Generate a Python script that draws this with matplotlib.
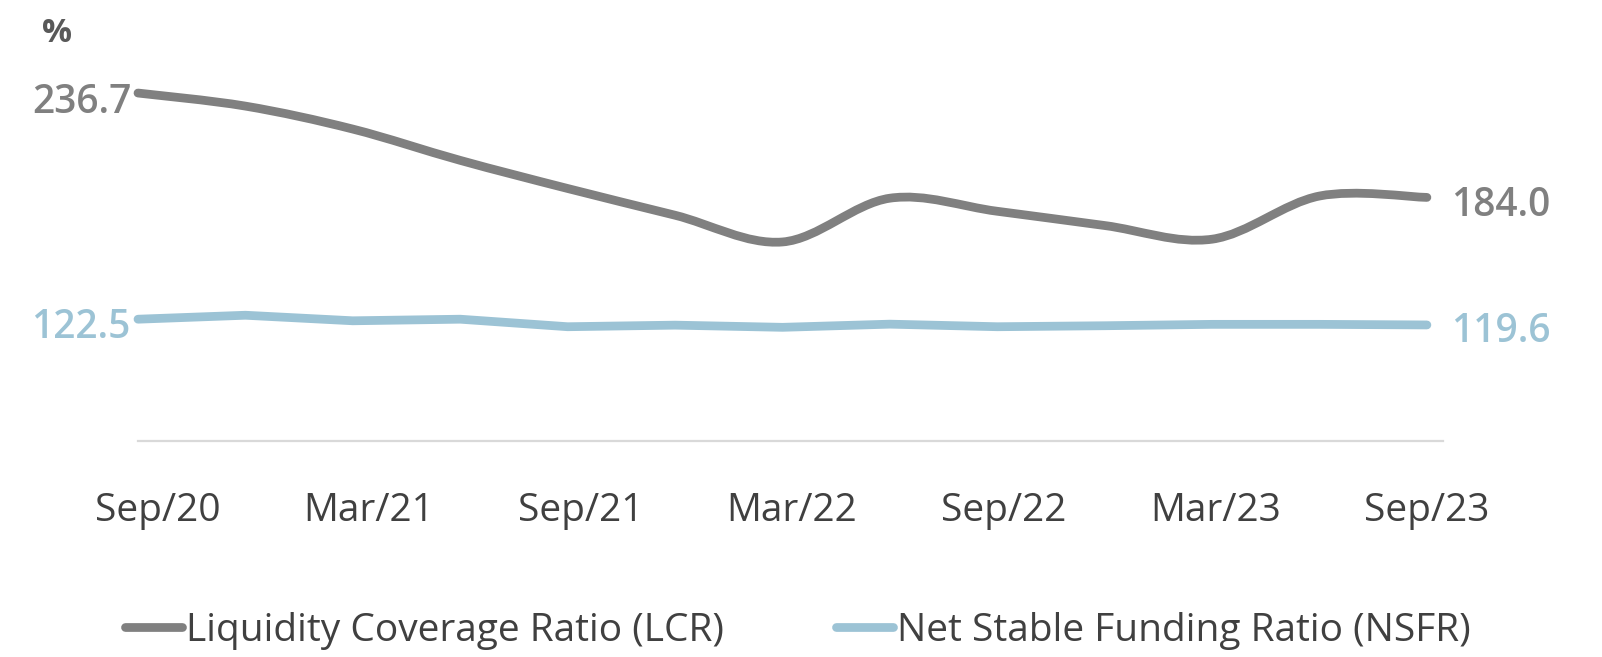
import numpy as np
import matplotlib
matplotlib.use("Agg")
import matplotlib.pyplot as plt
from matplotlib.path import Path
from matplotlib.patches import PathPatch
from matplotlib.lines import Line2D

plt.rcParams['font.family'] = ['Open Sans', 'DejaVu Sans']

# quarterly data, Sep/20 .. Sep/23
quarters = ["Sep/20", "Dec/20", "Mar/21", "Jun/21", "Sep/21", "Dec/21", "Mar/22",
            "Jun/22", "Sep/22", "Dec/22", "Mar/23", "Jun/23", "Sep/23"]
lcr = [236.7, 230.1, 218.5, 202.7, 188.5, 175.0, 161.5, 183.6, 177.0, 169.8, 162.9, 184.7, 184.0]
nsfr = [122.5, 124.5, 121.7, 122.5, 118.7, 119.5, 118.4, 120.0, 118.7, 119.2, 119.9, 119.9, 119.6]
tick_labels = ["Sep/20", "Mar/21", "Sep/21", "Mar/22", "Sep/22", "Mar/23", "Sep/23"]

LCR_COL = "#808080"
NSFR_COL = "#9cc3d5"
TXT_COL = "#404040"
LW = 6.3


def smooth_path(xs, ys):
    # catmull-rom -> cubic bezier, like a "smoothed line" in office charts
    pts = np.column_stack([xs, ys]).astype(float)
    ext = np.vstack([pts[0], pts, pts[-1]])
    verts = [pts[0]]
    codes = [Path.MOVETO]
    for i in range(len(pts) - 1):
        p0, p1, p2, p3 = ext[i], ext[i + 1], ext[i + 2], ext[i + 3]
        c1 = p1 + (p2 - p0) / 6.0
        c2 = p2 - (p3 - p1) / 6.0
        verts += [c1, c2, p2]
        codes += [Path.CURVE4] * 3
    return Path(verts, codes)


fig = plt.figure(figsize=(16.02, 6.57), dpi=100)
ax = fig.add_axes([138 / 1602, 1 - 441 / 657, (1443 - 138) / 1602, (441 - 86.5) / 657])

x = np.arange(len(quarters))
ax.add_patch(PathPatch(smooth_path(x, lcr), fill=False, edgecolor=LCR_COL, lw=LW,
                       capstyle='round', joinstyle='round', clip_on=False))
ax.plot(x, nsfr, color=NSFR_COL, lw=LW, solid_capstyle='round',
        solid_joinstyle='round', clip_on=False)

ax.set_xlim(0, len(quarters) - 1 + 0.15)
ax.set_ylim(61, 240)

for s in ['top', 'right', 'left']:
    ax.spines[s].set_visible(False)
ax.spines['bottom'].set_color('#d9d9d9')
ax.spines['bottom'].set_linewidth(1.6)
ax.set_yticks([])

tick_pos = [0.18 + 1.97 * k for k in range(len(tick_labels))]
ax.set_xticks(tick_pos, tick_labels)
ax.tick_params(axis='x', length=0, pad=37, labelsize=28, labelcolor=TXT_COL)

# end value labels
lab = dict(fontsize=28, fontweight='semibold', textcoords='offset pixels', va='center_baseline')
ax.annotate(f"{lcr[0]:.1f}", (x[0], lcr[0]), xytext=(-6, -5), ha='right', color=LCR_COL, **lab)
ax.annotate(f"{nsfr[0]:.1f}", (x[0], nsfr[0]), xytext=(-8, -4), ha='right', color=NSFR_COL, **lab)
ax.annotate(f"{lcr[-1]:.1f}", (x[-1], lcr[-1]), xytext=(24, -4), ha='left', color=LCR_COL, **lab)
ax.annotate(f"{nsfr[-1]:.1f}", (x[-1], nsfr[-1]), xytext=(24, -2), ha='left', color=NSFR_COL, **lab)

fig.text(57 / 1602, 1 - 33 / 657, "%", ha='center', va='center', fontsize=24,
         fontweight='bold', color='#595959')

handles = [Line2D([], [], color=LCR_COL, lw=LW, solid_capstyle='round'),
           Line2D([], [], color=NSFR_COL, lw=LW, solid_capstyle='round')]
fig.legend(handles, ["Liquidity Coverage Ratio (LCR)", "Net Stable Funding Ratio (NSFR)"],
           loc='center', bbox_to_anchor=(0.498, 1 - 631 / 657), ncol=2, frameon=False,
           fontsize=28, labelcolor=TXT_COL, handlelength=1.45, handletextpad=0.1,
           columnspacing=2.9, borderpad=0)

fig.savefig("out.png", dpi=100)
